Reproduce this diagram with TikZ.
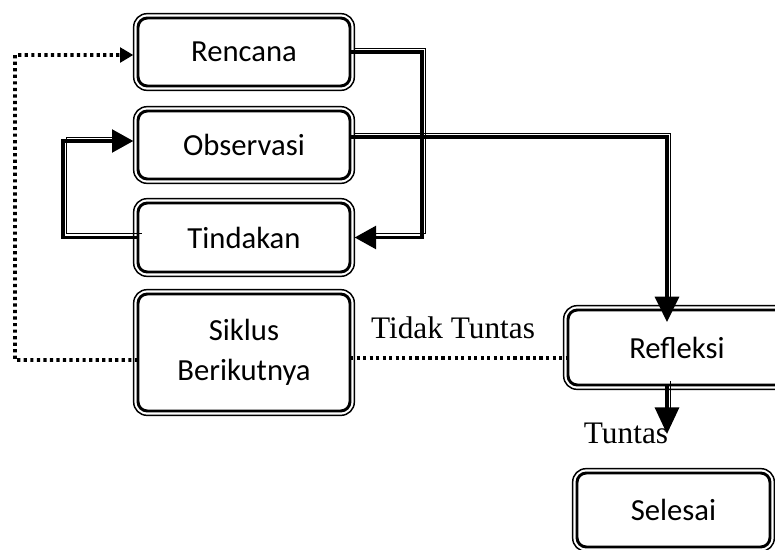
\documentclass[tikz,border=0pt]{standalone}
\usepackage{fontspec}
\setmainfont{Liberation Serif}
\newfontfamily\calfont{Carlito}
\usetikzlibrary{arrows.meta}
\tikzset{
  box/.style={draw, line width=2.2pt, rounded corners=7pt, outer sep=0pt, inner sep=0pt,
    align=center, font=\calfont\fontsize{23}{30}\selectfont},
  frame/.style={draw, line width=1.1pt, rounded corners=10pt},
  thk/.style={line width=2.5pt},
  thn/.style={line width=1pt},
  dots/.style={line width=2.7pt, dash pattern=on 2.4pt off 2.5pt},
  bigtip/.style={-{Triangle[length=16pt,width=17pt]}},
  dtip/.style={-{Triangle[length=10pt,width=11pt]}},
  lbl/.style={font=\fontsize{23.5}{28}\selectfont, inner sep=0pt, anchor=base}
}
\newcommand\cmpd[3]{\draw[thk,#1] #3; \draw[thn,#2,transform canvas={shift={(2.8pt,2.8pt)}}] #3;}
\begin{document}
\begin{tikzpicture}[x=0.75pt,y=-0.75pt]
\useasboundingbox (0,0) rectangle (775,550);
\clip (0,0) rectangle (775,550);
% boxes
\node[box, minimum width=159pt, minimum height=51pt] (ren) at (244,52) {Rencana};
\node[box, minimum width=159pt, minimum height=51pt] (obs) at (244,145) {Observasi};
\node[box, minimum width=159pt, minimum height=51.75pt] (tin) at (244,237.5) {Tindakan};
\node[box, minimum width=159pt, minimum height=87.75pt] (sik) at (244,352.5) {Siklus\\Berikutnya};
\node[box, minimum width=163.5pt, minimum height=56.25pt] (ref) at (677,347.5) {Refleksi};
\node[box, minimum width=144.75pt, minimum height=55.5pt] (sel) at (673.5,510) {Selesai};
\foreach \n in {ren,obs,tin,sik,ref,sel}
  \draw[frame] ([shift={(-3.25pt,3.25pt)}]\n.north west) rectangle ([shift={(3.25pt,-3.25pt)}]\n.south east);
% labels
\node[lbl] (tt) at (453,338) {Tidak Tuntas};
\node[lbl] (tu) at (626,443) {Tuntas};
% coordinates
\coordinate (k1) at (422,237.5);
\coordinate (k2) at (667,322);
\coordinate (k3) at (63,237.5);
\coordinate (k4) at (15,360);
\coordinate (k5) at (667,434);
% compound connectors
\cmpd{bigtip, shorten >=3.5pt}{shorten >=15pt}{(ren.east) -| (k1) -- (tin.east)}
\cmpd{-{Triangle[length=19pt,width=18pt]}}{shorten >=14pt}{([yshift=6pt]obs.east) -| (k2)}
\cmpd{bigtip, shorten >=3.5pt}{shorten >=15pt}{(tin.west) -- (k3) |- ([yshift=3pt]obs.west)}
\cmpd{-{Triangle[length=20pt,width=18pt]}}{shorten >=15pt}{(ref.south -| k5) -- (k5)}
% dotted connectors
\draw[dots, dtip, shorten >=3.5pt] ([yshift=-5.6pt]sik.west) -- (k4) |- ([yshift=-2.25pt]ren.west);
\draw[dots] ([yshift=-4.2pt]sik.east) -- ([yshift=-4.2pt]sik.east -| ref.west);
\end{tikzpicture}
\end{document}
